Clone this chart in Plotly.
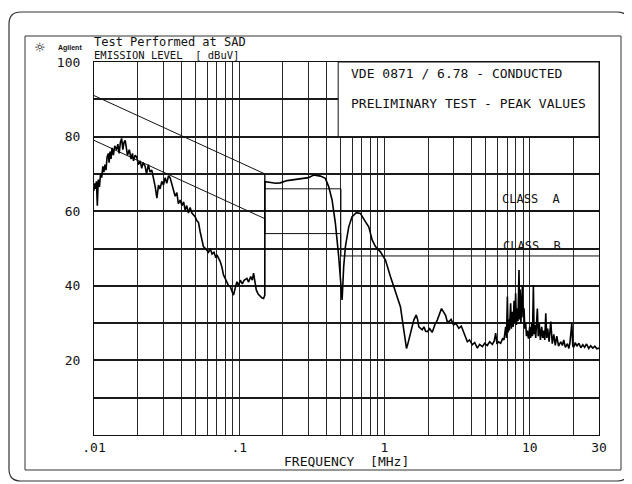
import math
import plotly.graph_objects as go

# ---------------- data ----------------
freq_mhz = [
    0.0100, 0.0101, 0.0102, 0.0104, 0.01054, 0.0107, 0.0109, 0.0111, 0.0113, 0.0115,
    0.0117, 0.0119, 0.0121, 0.0123, 0.01255, 0.0127, 0.0129, 0.0131, 0.0133, 0.0136,
    0.0139, 0.0143, 0.0146, 0.0149, 0.0152, 0.0155, 0.0158, 0.0161, 0.0164, 0.0167,
    0.0170, 0.0175, 0.0180, 0.0184, 0.0187, 0.0192, 0.0197, 0.0202, 0.0208, 0.0213,
    0.0218, 0.0225, 0.0230, 0.0237, 0.0243, 0.0250, 0.0257, 0.0264, 0.0271, 0.0278,
    0.0285, 0.0293, 0.0301, 0.0309, 0.0317, 0.0326, 0.0334, 0.0343, 0.0352, 0.0362,
    0.0372, 0.0381, 0.0392, 0.0403, 0.0414, 0.0424, 0.0435, 0.0447, 0.0459, 0.0472,
    0.0485, 0.0497, 0.0510, 0.0524, 0.0538, 0.0553, 0.0567, 0.0585, 0.0599, 0.0615,
    0.0631, 0.0650, 0.0670, 0.0690, 0.0702, 0.0720, 0.0740, 0.0760, 0.0779, 0.0800,
    0.0822, 0.0845, 0.0867, 0.0890, 0.0913, 0.0940, 0.0964, 0.0990, 0.1016, 0.1050,
    0.1080, 0.1130, 0.1160, 0.1200, 0.1230, 0.1255, 0.1280, 0.1310, 0.1350, 0.1396,
    0.1430, 0.1471, 0.1500,
    0.1502, 0.1535, 0.165, 0.178, 0.1918, 0.2133, 0.2369, 0.255, 0.2775, 0.300,
    0.3253, 0.345, 0.362, 0.3918, 0.413, 0.4357, 0.4592, 0.484, 0.4974, 0.5108,
    0.5238, 0.5383, 0.5675, 0.5984, 0.6412, 0.6823, 0.7389, 0.7794, 0.8224, 0.867,
    0.9376, 1.016, 1.099, 1.191, 1.288, 1.358, 1.418,
    1.45, 1.493, 1.54, 1.592, 1.654, 1.69, 1.724, 1.77, 1.82, 1.87, 1.92,
    1.97, 2.05, 2.13, 2.22, 2.31, 2.40, 2.47, 2.55, 2.64, 2.70, 2.78, 2.88, 2.99,
    3.10, 3.25, 3.38, 3.52, 3.62, 3.72, 3.85, 4.03, 4.18, 4.36, 4.52, 4.72, 4.90,
    5.10, 5.30, 5.53, 5.70, 5.83, 5.95, 6.11, 6.31, 6.50,
    6.65, 6.83, 6.92, 7.02, 7.10, 7.16, 7.25, 7.39, 7.48, 7.59, 7.70, 7.80, 7.90,
    8.00, 8.10, 8.22, 8.30, 8.44, 8.52, 8.60, 8.70, 8.80, 8.91, 9.00, 9.14, 9.25,
    9.38, 9.50, 9.64, 9.80, 10.0, 10.15, 10.33, 10.45, 10.60, 10.72, 10.83, 11.0,
    11.29, 11.45, 11.63, 11.85, 12.1, 12.3, 12.5, 12.7, 12.9, 13.1, 13.3, 13.6,
    13.96, 14.3, 14.65, 15.0, 15.36, 15.8, 16.37, 16.8, 17.15, 17.6, 18.2, 18.6,
    18.9, 19.5, 19.8, 20.1, 20.6, 21.1, 21.8, 22.5, 23.2, 23.9, 24.6, 25.5, 26.3,
    27.2, 28.1, 29.0, 30.0,
]
level_dbuv = [
    65.5, 67.5, 66.0, 68.0, 61.5, 68.5, 66.5, 70.0, 69.0, 72.0,
    70.5, 72.5, 71.0, 74.5, 75.5, 73.0, 76.0, 74.0, 77.0, 75.0,
    77.5, 76.5, 78.0, 75.5, 78.5, 79.5, 76.5, 78.5, 79.0, 77.0,
    75.0, 76.5, 74.0, 75.5, 73.5, 75.0, 74.5, 72.5, 73.5, 71.5,
    73.0, 72.0, 70.0, 72.5, 70.5, 71.0, 69.0, 66.5, 63.5, 67.0,
    66.0, 68.0, 67.0, 69.0, 67.5, 69.5, 69.0, 67.5, 66.0, 64.0,
    65.0, 62.0, 63.0, 61.5, 62.5, 60.3, 61.5, 59.5, 61.0, 59.5,
    59.0, 58.5, 57.5, 57.0, 54.5, 52.3, 50.5, 50.0, 49.5, 49.0,
    50.0, 48.5, 49.0, 47.5, 48.3, 47.5, 46.5, 45.0, 42.9, 42.0,
    41.1, 40.0, 39.8, 38.5, 37.5, 39.5, 41.1, 40.0, 41.5, 40.5,
    41.5, 42.0, 41.0, 42.5, 41.5, 43.4, 41.0, 38.9, 37.8, 37.1,
    36.8, 36.6, 37.5,
    67.9, 67.9, 67.7, 67.5, 67.6, 68.2, 68.4, 68.6, 68.8, 69.0,
    69.7, 69.5, 69.4, 68.8, 66.6, 63.0, 56.8, 47.8, 40.7, 36.2,
    45.1, 50.5, 55.8, 58.5, 59.6, 59.4, 57.2, 55.8, 52.3, 50.5,
    49.1, 46.9, 42.5, 38.4, 34.4, 28.2, 23.2,
    24.5, 26.4, 29.0, 30.8, 32.2, 31.0, 29.0, 28.5, 28.2, 29.0, 27.8,
    27.7, 28.5, 27.5, 29.5, 30.8, 32.5, 33.9, 33.0, 32.0, 30.5, 30.4, 31.0, 29.5,
    30.0, 28.6, 29.2, 27.3, 26.5, 25.0, 25.5, 24.2, 24.8, 23.3, 24.3, 23.7, 24.6,
    24.0, 25.0, 24.3, 25.2, 27.3, 24.4, 25.0, 24.6, 25.8,
    25.5, 29.0, 26.0, 37.1, 27.5, 31.0, 28.0, 35.3, 28.5, 33.0, 29.0, 36.0, 30.0,
    38.0, 29.5, 34.0, 30.5, 44.2, 31.0, 39.0, 30.0, 36.5, 40.2, 31.5, 34.0, 28.5,
    30.0, 26.5, 28.0, 25.8, 29.0, 26.0, 30.0, 26.5, 40.2, 27.0, 29.5, 26.0,
    33.9, 26.5, 30.0, 25.5, 29.0, 26.0, 28.0, 25.5, 32.6, 26.0, 28.5, 25.0,
    30.4, 24.5, 27.0, 24.0, 26.5, 23.8, 25.0, 24.0, 25.5, 23.5, 24.5, 23.2,
    24.5, 30.0, 23.8, 23.5, 24.8, 23.8, 24.6, 23.4, 24.2, 23.5, 24.4, 23.2, 23.9,
    23.3, 23.8, 23.1, 23.3,
]

class_a_freq = [0.01, 0.15, 0.15, 0.5, 0.5, 30]
class_a_level = [91, 70, 66, 66, 60, 60]
class_b_freq = [0.01, 0.15, 0.15, 0.5, 0.5, 30]
class_b_level = [79, 58, 54, 54, 48, 48]
limit_link_freq = [0.15, 0.15, None, 0.5, 0.5]
limit_link_level = [70, 54, None, 66, 48]

x_tick_vals = [0.01, 0.1, 1, 10, 30]
x_tick_text = [".01", ".1", "1", "10", "30"]
x_minor_vals = [0.02, 0.03, 0.04, 0.05, 0.06, 0.07, 0.08, 0.09,
                0.2, 0.3, 0.4, 0.5, 0.6, 0.7, 0.8, 0.9,
                2, 3, 4, 5, 6, 7, 8, 9, 20]
y_tick_vals = [0, 10, 20, 30, 40, 50, 60, 70, 80, 90, 100]
y_tick_text = ["", "", "20", "", "40", "", "60", "", "80", "", "100"]

box_text_freq = 0.5735
class_label_freq = 10.3

# ---------------- layout helpers ----------------
# The page body has an 8px margin, so the figure is sized/offset to compensate.
OFF = 8
WIN_W, WIN_H = 632, 484
W, H = WIN_W - OFF, WIN_H - OFF
L, R, T, B = 94, 599, 62, 435   # plot area in window pixels


def px(x):
    return (x - L) / (R - L)


def py(y):
    return (B - y) / (B - T)


def rounded(x0, y0, x1, y1, r):
    return (f"M {px(x0 + r)},{py(y0)} L {px(x1 - r)},{py(y0)} "
            f"Q {px(x1)},{py(y0)} {px(x1)},{py(y0 + r)} "
            f"L {px(x1)},{py(y1 - r)} Q {px(x1)},{py(y1)} {px(x1 - r)},{py(y1)} "
            f"L {px(x0 + r)},{py(y1)} Q {px(x0)},{py(y1)} {px(x0)},{py(y1 - r)} "
            f"L {px(x0)},{py(y0 + r)} Q {px(x0)},{py(y0)} {px(x0 + r)},{py(y0)} Z")


MONO = "DejaVu Sans Mono"
INK = "#111111"

fig = go.Figure()
fig.add_trace(go.Scatter(x=class_a_freq, y=class_a_level, mode="lines",
                         line=dict(color=INK, width=1), hoverinfo="skip"))
fig.add_trace(go.Scatter(x=class_b_freq, y=class_b_level, mode="lines",
                         line=dict(color=INK, width=1), hoverinfo="skip"))
fig.add_trace(go.Scatter(x=limit_link_freq, y=limit_link_level, mode="lines",
                         line=dict(color=INK, width=1), hoverinfo="skip",
                         connectgaps=False))
fig.add_trace(go.Scatter(x=freq_mhz, y=level_dbuv, mode="lines",
                         line=dict(color="#000000", width=1.6)))

shapes = [
    dict(type="rect", xref="x", yref="y", x0=0.48, x1=30, y0=80, y1=100,
         fillcolor="white", line=dict(color=INK, width=1), layer="above"),
    dict(type="rect", xref="paper", yref="paper", x0=px(25), x1=px(621),
         y0=py(470), y1=py(36), line=dict(color="#333333", width=1)),
    dict(type="path", xref="paper", yref="paper", path=rounded(9, 12, 629, 481, 12),
         line=dict(color="#333333", width=1.2)),
]

annotations = [
    dict(xref="paper", yref="paper", x=px(92), y=py(41.5), xanchor="left", yanchor="middle",
         text="Test Performed at SAD", showarrow=False, font=dict(family=MONO, size=12, color=INK)),
    dict(xref="paper", yref="paper", x=px(92), y=py(54.5), xanchor="left", yanchor="middle",
         text="EMISSION LEVEL  [ dBuV]", showarrow=False, font=dict(family=MONO, size=10.5, color=INK)),
    dict(xref="paper", yref="paper", x=px(40), y=py(48), xanchor="center", yanchor="middle",
         text="☼", showarrow=False, font=dict(family="DejaVu Sans", size=13, color=INK)),
    dict(xref="paper", yref="paper", x=px(56), y=py(48), xanchor="left", yanchor="middle",
         text="<b>Agilent</b>", showarrow=False, font=dict(family="Liberation Sans", size=7, color=INK)),
    dict(xref="paper", yref="paper", x=px(346), y=py(461), xanchor="center", yanchor="middle",
         text="FREQUENCY  [MHz]", showarrow=False, font=dict(family=MONO, size=13, color=INK)),
    dict(xref="x", yref="y", x=math.log10(box_text_freq), y=97.0, xanchor="left", yanchor="middle",
         text="VDE 0871 / 6.78 - CONDUCTED", showarrow=False, font=dict(family=MONO, size=13, color=INK)),
    dict(xref="x", yref="y", x=math.log10(box_text_freq), y=89.0, xanchor="left", yanchor="middle",
         text="PRELIMINARY TEST - PEAK VALUES", showarrow=False, font=dict(family=MONO, size=13, color=INK)),
    dict(xref="x", yref="y", x=math.log10(class_label_freq), y=63.3, xanchor="center", yanchor="middle",
         text="CLASS  A", showarrow=False, font=dict(family=MONO, size=12, color=INK)),
    dict(xref="x", yref="y", x=math.log10(class_label_freq), y=50.8, xanchor="center", yanchor="middle",
         text="CLASS  B", showarrow=False, font=dict(family=MONO, size=12, color=INK)),
]

fig.update_layout(
    width=W, height=H, autosize=False,
    margin=dict(l=L - OFF, r=W - (R - OFF), t=T - OFF, b=H - (B - OFF), pad=0),
    paper_bgcolor="white", plot_bgcolor="white",
    showlegend=False,
    shapes=shapes, annotations=annotations,
    xaxis=dict(type="log", range=[-2, math.log10(30)], tickmode="array",
               tickvals=x_tick_vals, ticktext=x_tick_text, ticks="",
               showgrid=True, gridcolor="#2a2a2a", gridwidth=1,
               minor=dict(tickmode="array", tickvals=x_minor_vals, showgrid=True,
                          gridcolor="#2a2a2a", gridwidth=1, ticks=""),
               showline=True, linecolor=INK, linewidth=1.2, mirror=True,
               zeroline=False, tickfont=dict(family=MONO, size=13, color=INK)),
    yaxis=dict(range=[0, 100], tickmode="array", tickvals=y_tick_vals, ticktext=y_tick_text,
               ticks="", showgrid=True, gridcolor="#1a1a1a", gridwidth=1.5,
               showline=True, linecolor=INK, linewidth=1.2, mirror=True,
               zeroline=False, ticklabelstandoff=10,
               tickfont=dict(family=MONO, size=13, color=INK)),
)

fig.write_html("out.html")
